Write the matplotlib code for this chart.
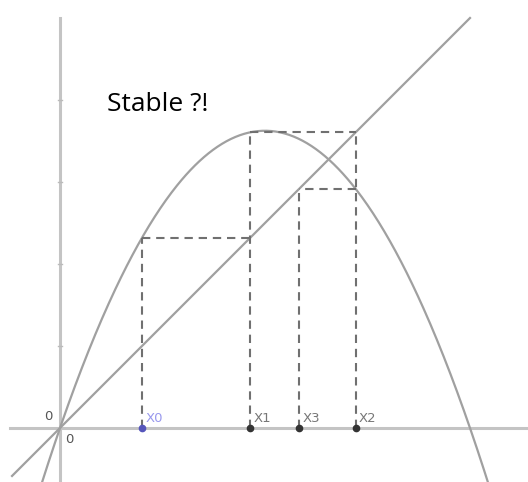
import numpy as np
import matplotlib.pyplot as plt

# logistic map parameter and iterates
r = 2.9
xs = [0.2, 0.464, 0.721, 0.583]          # X0, X1, X2, X3
ys = [0.464, 0.721, 0.583, 0.705]        # f(Xn)
names = ["X0", "X1", "X2", "X3"]

fig = plt.figure(figsize=(5.28, 4.82), dpi=100)
ax = fig.add_axes([0, 0, 1, 1])
ax.set_xlim(-60 / 410, 468 / 410)
ax.set_ylim(-54 / 410, 428 / 410)
ax.axis("off")

axcol = "#c4c4c4"
ax.plot([-0.122, 1.15], [0, 0], color=axcol, lw=2.2, zorder=1)
ax.plot([0, 0], [-0.14, 1.0], color=axcol, lw=2.2, zorder=1)
for t in [0.2, 0.4, 0.6, 0.8]:
    ax.plot([-0.006, 0.006], [t, t], color="#bbbbbb", lw=1, zorder=1)

# curve and diagonal
x = np.linspace(-0.045, 1.045, 400)
ax.plot(x, r * x * (1 - x), color="#a0a0a0", lw=1.6, zorder=2)
ax.plot([-0.117, 1.0], [-0.117, 1.0], color="#a0a0a0", lw=1.6, zorder=2)

# cobweb
dash = dict(color="#707070", lw=1.5, ls=(0, (4, 2.8)), zorder=3)
ax.plot([xs[0], xs[0]], [0, ys[0]], **dash)
ax.plot([xs[0], xs[1]], [ys[0], ys[0]], **dash)
ax.plot([xs[1], xs[1]], [0, ys[1]], **dash)
ax.plot([xs[1], xs[2]], [ys[1], ys[1]], **dash)
ax.plot([xs[2], xs[2]], [0, ys[1]], **dash)
ax.plot([xs[2], xs[3]], [ys[2], ys[2]], **dash)
ax.plot([xs[3], xs[3]], [0, ys[2]], **dash)

# points and labels
for i, (px, nm) in enumerate(zip(xs, names)):
    col = "#5555bb" if i == 0 else "#333333"
    tcol = "#9999ee" if i == 0 else "#777777"
    ax.plot(px, 0, "o", ms=4.5, color=col, zorder=4)
    ax.text(px + 0.008, 0.008, nm, color=tcol, fontsize=9.5, ha="left", va="bottom")

ax.text(-0.018, 0.012, "0", color="#555555", fontsize=9.5, ha="right", va="bottom")
ax.text(0.012, -0.012, "0", color="#555555", fontsize=9.5, ha="left", va="top")

ax.text(47 / 410, (428 - 104) / 410, "Stable ?!", fontsize=19,
        family="Open Sans", color="black", ha="left", va="center")

fig.savefig("out.png", dpi=100)
